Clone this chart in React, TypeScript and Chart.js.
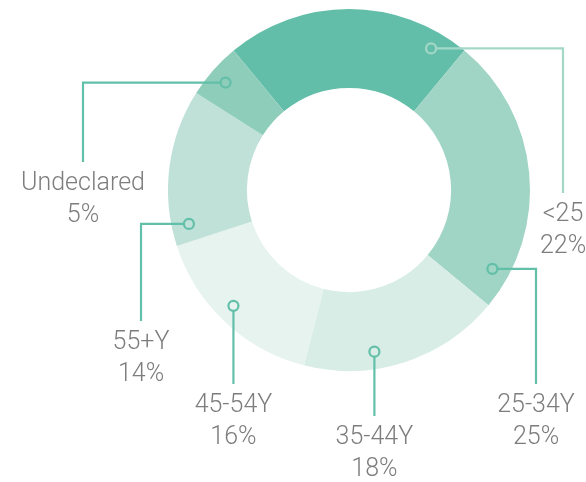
import React, { useEffect, useRef } from "react";
import { Chart, registerables } from "chart.js";

Chart.register(...registerables);

const categories = ["<25", "25-34Y", "35-44Y", "45-54Y", "55+Y", "Undeclared"];
const shares = [22, 25, 18, 16, 14, 5];
const shareLabels = ["22%", "25%", "18%", "16%", "14%", "5%"];
const sliceColors = ["#63bea9", "#a0d4c4", "#d8ede6", "#e6f3ef", "#bfe1d7", "#8fcdbb"];

// callout layout: fraction within slice for the marker, elbow x offset from center (null = straight down), end y offset from center
const calloutLayout = [
  { frac: 0.88, hx: 214, endY: 3, color: "#a3d7c8" },
  { frac: 0.88, hx: 187, endY: 194, color: "#62bfa8" },
  { frac: 0.64, hx: null, endY: 226, color: "#62bfa8" },
  { frac: 0.53, hx: null, endY: 194, color: "#62bfa8" },
  { frac: 0.12, hx: -208, endY: 131, color: "#62bfa8" },
  { frac: 0.48, hx: -266, endY: -28, color: "#62bfa8" },
];

const calloutPlugin = {
  id: "callouts",
  afterDraw(chart: any) {
    const ctx = chart.ctx;
    const meta = chart.getDatasetMeta(0);
    meta.data.forEach((arc: any, i: number) => {
      const p = arc.getProps(["x", "y", "startAngle", "endAngle", "innerRadius", "outerRadius"], true);
      const L = calloutLayout[i];
      const a = p.startAngle + L.frac * (p.endAngle - p.startAngle);
      const r = p.innerRadius + 0.78 * (p.outerRadius - p.innerRadius);
      const mx = p.x + r * Math.cos(a);
      const my = p.y + r * Math.sin(a);
      const mr = 5;
      ctx.save();
      ctx.strokeStyle = L.color;
      ctx.lineWidth = 2.2;
      ctx.beginPath();
      ctx.arc(mx, my, mr, 0, Math.PI * 2);
      ctx.stroke();
      const endY = p.y + L.endY;
      let lx: number;
      ctx.beginPath();
      if (L.hx !== null) {
        lx = p.x + L.hx;
        const dir = lx > mx ? 1 : -1;
        ctx.moveTo(mx + dir * mr, my);
        ctx.lineTo(lx, my);
        ctx.lineTo(lx, endY);
      } else {
        lx = mx;
        ctx.moveTo(mx, my + mr);
        ctx.lineTo(mx, endY);
      }
      ctx.stroke();
      ctx.fillStyle = "#7d7d7d";
      ctx.font = "300 25px Roboto, 'Open Sans', sans-serif";
      ctx.textAlign = "center";
      ctx.textBaseline = "middle";
      ctx.fillText(categories[i], lx, endY + 22);
      ctx.fillText(shareLabels[i], lx, endY + 54);
      ctx.restore();
    });
  },
};

export default function App() {
  const ref = useRef<HTMLCanvasElement>(null);
  useEffect(() => {
    const chart = new Chart(ref.current!, {
      type: "doughnut",
      data: {
        labels: categories,
        datasets: [
          {
            data: shares,
            backgroundColor: sliceColors,
            borderWidth: 0,
          },
        ],
      },
      options: {
        animation: false,
        responsive: false,
        rotation: -39.6,
        cutout: "56.4%",
        layout: { padding: { left: 168, right: 56, top: 9, bottom: 111 } },
        plugins: { legend: { display: false }, tooltip: { enabled: false } },
      },
      plugins: [calloutPlugin],
    });
    return () => chart.destroy();
  }, []);
  return (
    <div style={{ position: "fixed", left: 0, top: 0, width: 586, height: 482, background: "#fff" }}>
      <canvas ref={ref} width={586} height={482} style={{ width: 586, height: 482 }} />
    </div>
  );
}
